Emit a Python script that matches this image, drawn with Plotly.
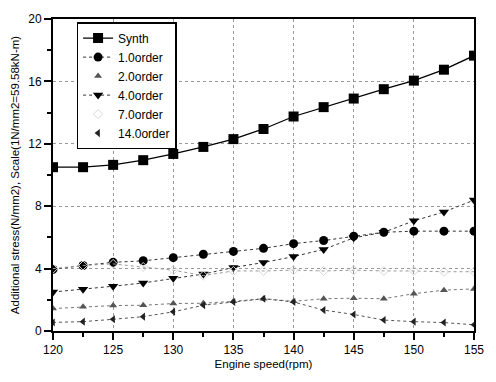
import plotly.graph_objects as go

speed = [120, 122.5, 125, 127.5, 130, 132.5, 135, 137.5, 140, 142.5, 145, 147.5, 150, 152.5, 155]
synth = [10.5, 10.5, 10.65, 10.95, 11.35, 11.8, 12.3, 12.95, 13.75, 14.35, 14.9, 15.5, 16.05, 16.75, 17.65]
order1 = [3.95, 4.2, 4.4, 4.5, 4.7, 4.92, 5.1, 5.3, 5.6, 5.8, 6.08, 6.33, 6.4, 6.4, 6.4]
order2 = [1.44, 1.55, 1.63, 1.65, 1.76, 1.78, 1.9, 2.07, 1.9, 2.07, 2.1, 2.07, 2.39, 2.62, 2.7]
order4 = [2.5, 2.67, 2.87, 3.08, 3.38, 3.65, 4.07, 4.39, 4.77, 5.23, 5.97, 6.33, 7.06, 7.63, 8.39]
order7 = [4.0, 4.2, 4.3, 4.1, 3.9, 3.55, 3.85, 3.85, 3.9, 3.85, 3.9, 3.85, 3.85, 3.8, 3.8]
order14 = [0.55, 0.6, 0.75, 0.92, 1.23, 1.65, 1.86, 2.07, 1.86, 1.34, 1.06, 0.7, 0.6, 0.54, 0.4]

font = "Liberation Sans, Arial, sans-serif"
fig = go.Figure()

fig.add_trace(go.Scatter(x=speed, y=synth, name="Synth", mode="lines+markers",
                         line=dict(color="black", width=1.3),
                         marker=dict(symbol="square", size=10, color="black")))
fig.add_trace(go.Scatter(x=speed, y=order1, name="1.0order", mode="lines+markers",
                         line=dict(color="#333", width=1, dash="dot"),
                         marker=dict(symbol="circle", size=9, color="black")))
# 2.0 order: line without legend, marker with legend
fig.add_trace(go.Scatter(x=speed, y=order2, mode="lines", showlegend=False,
                         line=dict(color="#777", width=1, dash="dot"),
                         hoverinfo="skip"))
fig.add_trace(go.Scatter(x=speed, y=order2, name="2.0order", mode="markers",
                         marker=dict(symbol="triangle-up", size=7, color="#555")))
fig.add_trace(go.Scatter(x=speed, y=order4, name="4.0order", mode="lines+markers",
                         line=dict(color="#333", width=1, dash="dot"),
                         marker=dict(symbol="triangle-down", size=9, color="black")))
fig.add_trace(go.Scatter(x=speed, y=order7, mode="lines", showlegend=False,
                         line=dict(color="#999", width=1, dash="dot"),
                         hoverinfo="skip"))
fig.add_trace(go.Scatter(x=speed, y=order7, name="7.0order", mode="markers",
                         marker=dict(symbol="diamond-open", size=7, color="#d8d8d8")))
fig.add_trace(go.Scatter(x=speed, y=order14, mode="lines", showlegend=False,
                         line=dict(color="#555", width=1, dash="dot"),
                         hoverinfo="skip"))
fig.add_trace(go.Scatter(x=speed, y=order14, name="14.0order", mode="markers",
                         marker=dict(symbol="triangle-left", size=7, color="#222")))

fig.update_layout(
    width=496, height=382,
    margin=dict(l=53, r=14, t=12, b=51),
    paper_bgcolor="white", plot_bgcolor="white",
    font=dict(family=font, size=12, color="black"),
    showlegend=True,
    legend=dict(x=0.056, y=0.99, xanchor="left", yanchor="top",
                bordercolor="black", borderwidth=1.5, bgcolor="white",
                font=dict(size=12), tracegroupgap=0),
)
fig.update_xaxes(range=[120, 155], tickmode="linear", tick0=120, dtick=5,
                 ticks="outside", ticklen=7, tickwidth=1.5, tickcolor="black",
                 minor=dict(dtick=2.5, ticks="outside", ticklen=4, tickcolor="black", showgrid=False),
                 showline=True, linecolor="black", linewidth=2, mirror=True,
                 showgrid=True, gridcolor="#999", griddash="dot", gridwidth=1,
                 zeroline=False,
                 title=dict(text="Engine speed(rpm)", font=dict(size=11.5), standoff=4),
                 tickfont=dict(size=12))
fig.update_yaxes(range=[0, 20], tickmode="linear", tick0=0, dtick=4,
                 ticks="outside", ticklen=7, tickwidth=1.5, tickcolor="black",
                 minor=dict(dtick=2, ticks="outside", ticklen=4, tickcolor="black", showgrid=False),
                 showline=True, linecolor="black", linewidth=2, mirror=True,
                 showgrid=True, gridcolor="#999", griddash="dot", gridwidth=1,
                 zeroline=False,
                 title=dict(text="Additional stress(N/mm2), Scale(1N/mm2=59.58kN-m)", font=dict(size=11.5), standoff=6),
                 tickfont=dict(size=12))

fig.write_html("out.html")
